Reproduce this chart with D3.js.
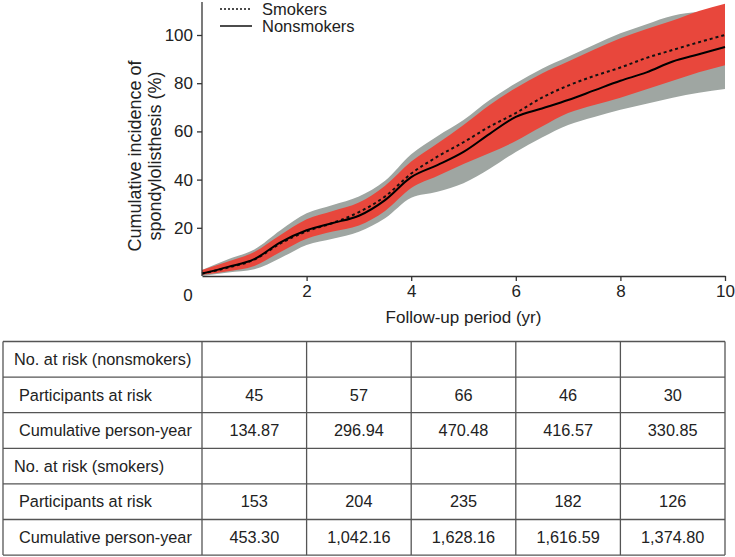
<!DOCTYPE html>
<html>
<head>
<meta charset="utf-8">
<script src="https://cdn.jsdelivr.net/npm/d3@7"></script>
<style>
  body { margin: 0; background: #fff; }
  svg { display: block; font-family: "Liberation Sans", Arial, Helvetica, sans-serif; }
</style>
</head>
<body>
<div id="chart"></div>
<script>
// follow-up time (yr) and cumulative incidence (%)
var years          = [0, 0.5, 1, 1.5, 2, 2.5, 3, 3.5, 4, 4.5, 5, 5.5, 6, 6.5, 7, 7.5, 8, 8.5, 9, 9.5, 10];
var nonsmokers     = [1, 3.8, 7, 14, 19, 22, 25, 31.5, 41, 46, 51.5, 59, 66, 69.5, 73, 77, 81, 84.5, 89, 92, 95];
var smokers        = [1, 3.5, 6.8, 13.5, 18.5, 22, 26.5, 33, 42.5, 49.5, 55.5, 62, 67.6, 74, 79, 83, 86.5, 90.5, 93.8, 97, 100];
var smokersHigh    = [2.5, 6, 10, 17, 23.5, 27, 30.5, 37.5, 47.5, 55, 62.7, 71, 78, 84, 89, 94, 98.6, 102.5, 106, 110, 113];
var smokersLow     = [0.5, 2, 4.2, 10, 15.5, 18.5, 21, 27, 36.5, 41.5, 46.5, 51, 56, 62, 67.6, 71, 74, 77.5, 81, 84.5, 87.5];
var nonsmokersHigh = [2.5, 7, 11, 19, 26, 29.5, 33, 39.5, 50.5, 58, 64.7, 73, 80, 86, 91, 96, 100.7, 104.5, 108, 109.5, 110];
var nonsmokersLow  = [0, 1.5, 2.8, 7.5, 12.9, 15.5, 18.4, 24, 32.5, 35, 38.5, 44.5, 51.5, 57.5, 62.7, 66, 69, 71.5, 74, 76, 77.6];

var xTicks = [2, 4, 6, 8, 10];
var yTicks = [20, 40, 60, 80, 100];

// table under the plot, one column per 2-year interval
var intervalEdges = [0, 2, 4, 6, 8, 10];
var riskNonsmokers = ["45", "57", "66", "46", "30"];
var pyNonsmokers = ["134.87", "296.94", "470.48", "416.57", "330.85"];
var riskSmokers = ["153", "204", "235", "182", "126"];
var pySmokers = ["453.30", "1,042.16", "1,628.16", "1,616.59", "1,374.80"];

function go() {
    var width = 735, height = 557;
    var svg = d3.select("#chart").append("svg")
        .attr("width", width)
        .attr("height", height);

    var x = d3.scaleLinear().domain([0, 10]).range([202, 725]);
    var y = d3.scaleLinear().domain([0, 100]).range([276, 35]);
    var yTop = 2;

    var ink = "#222";
    var curve = d3.curveMonotoneX;

    // bands: nonsmokers CI (gray) behind smokers CI (red)
    function band(lo, hi) {
        return d3.area()
            .curve(curve)
            .x(function (d, i) { return x(years[i]); })
            .y0(function (d, i) { return y(lo[i]); })
            .y1(function (d, i) { return y(hi[i]); })(years);
    }
    svg.append("path").attr("d", band(nonsmokersLow, nonsmokersHigh)).attr("fill", "#9fa6a2");
    svg.append("path").attr("d", band(smokersLow, smokersHigh)).attr("fill", "#e8473c");

    var line = d3.line()
        .curve(curve)
        .x(function (d) { return x(d[0]); })
        .y(function (d) { return y(d[1]); });

    svg.append("path")
        .attr("d", line(d3.zip(years, smokers)))
        .attr("fill", "none")
        .attr("stroke", "#111")
        .attr("stroke-width", 2)
        .attr("stroke-dasharray", "3,3");

    svg.append("path")
        .attr("d", line(d3.zip(years, nonsmokers)))
        .attr("fill", "none")
        .attr("stroke", "#000")
        .attr("stroke-width", 2);

    // axes
    var xAxis = svg.append("g")
        .attr("transform", "translate(0," + y(0) + ")")
        .call(d3.axisBottom(x).tickValues(xTicks).tickSize(5).tickSizeOuter(0).tickPadding(4));
    var yAxis = svg.append("g")
        .attr("transform", "translate(" + x(0) + ",0)")
        .call(d3.axisLeft(y).tickValues(yTicks).tickSize(5).tickSizeOuter(0).tickPadding(4));
    yAxis.select(".domain").attr("d", "M0," + y(0) + "V" + yTop);

    [xAxis, yAxis].forEach(function (a) {
        a.select(".domain").attr("stroke", "#333").attr("stroke-width", 1.3);
        a.selectAll(".tick line").attr("stroke", "#333").attr("stroke-width", 1.3);
        a.selectAll(".tick text").attr("fill", ink).style("font-size", "17px")
            .style("font-family", "'Liberation Sans', Arial, sans-serif");
    });

    svg.append("text")
        .attr("x", 188).attr("y", 301)
        .attr("text-anchor", "middle")
        .attr("fill", ink).style("font-size", "17px")
        .text("0");

    svg.append("text")
        .attr("x", x(5)).attr("y", 323)
        .attr("text-anchor", "middle")
        .attr("fill", ink).style("font-size", "17px")
        .text("Follow-up period (yr)");

    var yTitle = svg.append("text")
        .attr("transform", "translate(141,156) rotate(-90)")
        .attr("text-anchor", "middle")
        .attr("fill", ink).style("font-size", "18px");
    yTitle.append("tspan").attr("x", 0).attr("dy", 0).text("Cumulative incidence of");
    yTitle.append("tspan").attr("x", 0).attr("dy", 20).text("spondylolisthesis (%)");

    // legend
    var legend = [
        { name: "Smokers", dash: "2,2", w: 1.3, ly: 9 },
        { name: "Nonsmokers", dash: null, w: 1.5, ly: 26 }
    ];
    legend.forEach(function (l) {
        svg.append("line")
            .attr("x1", 220).attr("x2", 252)
            .attr("y1", l.ly).attr("y2", l.ly)
            .attr("stroke", "#111")
            .attr("stroke-width", l.w)
            .attr("stroke-dasharray", l.dash);
        svg.append("text")
            .attr("x", 262).attr("y", l.ly + 6)
            .attr("fill", ink).style("font-size", "16.5px")
            .text(l.name);
    });

    // table
    var rows = [
        { label: "No. at risk (nonsmokers)", values: null, pad: 11 },
        { label: "Participants at risk", values: riskNonsmokers, pad: 16 },
        { label: "Cumulative person-year", values: pyNonsmokers, pad: 16 },
        { label: "No. at risk (smokers)", values: null, pad: 11 },
        { label: "Participants at risk", values: riskSmokers, pad: 16 },
        { label: "Cumulative person-year", values: pySmokers, pad: 16 }
    ];
    var tableLeft = 3, tableTop = 341.5, rowH = 35.6;
    var tableRight = x(10), tableBottom = tableTop + rowH * rows.length;
    var grid = svg.append("g").attr("stroke", "#555").attr("stroke-width", 1.3);

    d3.range(rows.length + 1).forEach(function (i) {
        grid.append("line")
            .attr("x1", tableLeft).attr("x2", tableRight)
            .attr("y1", tableTop + i * rowH).attr("y2", tableTop + i * rowH);
    });
    [tableLeft].concat(intervalEdges.map(x)).forEach(function (cx) {
        grid.append("line")
            .attr("x1", cx).attr("x2", cx)
            .attr("y1", tableTop).attr("y2", tableBottom);
    });

    rows.forEach(function (r, i) {
        var cy = tableTop + i * rowH + rowH / 2;
        svg.append("text")
            .attr("x", tableLeft + r.pad).attr("y", cy)
            .attr("dy", "0.35em")
            .attr("fill", ink).style("font-size", "16.3px")
            .text(r.label);
        if (!r.values) return;
        r.values.forEach(function (v, j) {
            svg.append("text")
                .attr("x", (x(intervalEdges[j]) + x(intervalEdges[j + 1])) / 2)
                .attr("y", cy)
                .attr("dy", "0.35em")
                .attr("text-anchor", "middle")
                .attr("fill", ink).style("font-size", "16.3px")
                .text(v);
        });
    });
}

document.addEventListener("DOMContentLoaded", function () {
    go();
});
</script>
</body>
</html>
